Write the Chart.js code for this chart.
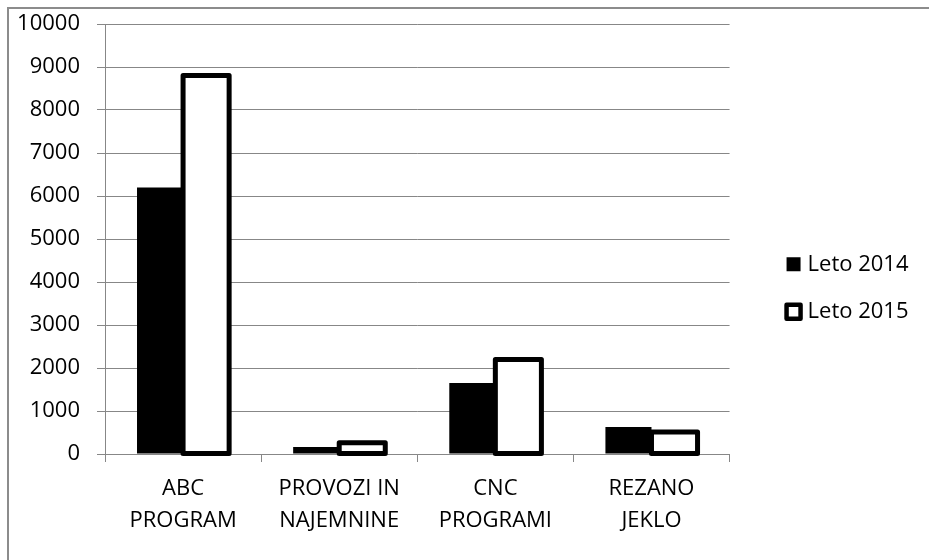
<!DOCTYPE html>
<html>
<head>
<meta charset="utf-8">
<script src="https://cdn.jsdelivr.net/npm/chart.js@4/dist/chart.umd.min.js"></script>
<style>
  html, body { margin: 0; padding: 0; background: #fff; }
  #wrap { position: relative; width: 929px; height: 560px; }
</style>
</head>
<body>
<div id="wrap"><canvas id="chart"></canvas></div>
<script>
// Categories (two-line axis labels)
const categories = [
  ['ABC', 'PROGRAM'],
  ['PROVOZI IN', 'NAJEMNINE'],
  ['CNC', 'PROGRAMI'],
  ['REZANO', 'JEKLO']
];
const seriesNames = ['Leto 2014', 'Leto 2015'];
const values2014 = [6200, 160, 1650, 630];
const values2015 = [8800, 260, 2200, 510];
const yTicks = [0, 1000, 2000, 3000, 4000, 5000, 6000, 7000, 8000, 9000, 10000];

const GRID = '#878787';
const OUTLINE = 5;

Chart.defaults.font.family = "'Open Sans', sans-serif";
Chart.defaults.font.size = 22;
Chart.defaults.color = '#000';

// White page with the grey frame along the top and left edges
const framePlugin = {
  id: 'frame',
  beforeDraw(chart) {
    const ctx = chart.ctx;
    ctx.save();
    ctx.fillStyle = '#fff';
    ctx.fillRect(0, 0, chart.width, chart.height);
    ctx.strokeStyle = '#8c8c8c';
    ctx.lineWidth = 2;
    ctx.beginPath();
    ctx.moveTo(8, chart.height);
    ctx.lineTo(8, 8);
    ctx.lineTo(chart.width, 8);
    ctx.stroke();
    ctx.restore();
  }
};

// Thick centred outline around the hollow 2015 bars
const outlinePlugin = {
  id: 'outline',
  afterDatasetsDraw(chart) {
    const meta = chart.getDatasetMeta(1);
    if (!meta || meta.hidden) return;
    const ctx = chart.ctx;
    ctx.save();
    ctx.strokeStyle = '#000';
    ctx.lineWidth = OUTLINE;
    ctx.lineJoin = 'round';
    meta.data.forEach(bar => {
      const left = bar.x - bar.width / 2;
      ctx.strokeRect(left, bar.y, bar.width, bar.base - bar.y);
    });
    ctx.restore();
  }
};

// Keep the legend entries to the right of the plot with a gap
const legendShift = {
  id: 'legendShift',
  afterLayout(chart) {
    const lg = chart.legend;
    if (!lg) return;
    const dx = 35.5;
    lg.left += dx;
    lg.right += dx;
  }
};

new Chart(document.getElementById('chart'), {
  type: 'bar',
  data: {
    labels: categories,
    datasets: [
      {
        label: seriesNames[0],
        data: values2014,
        backgroundColor: '#000',
        borderWidth: 0
      },
      {
        label: seriesNames[1],
        data: values2015,
        backgroundColor: '#fff',
        borderWidth: 0
      }
    ]
  },
  options: {
    responsive: true,
    maintainAspectRatio: false,
    animation: false,
    events: [],
    categoryPercentage: 0.59,
    barPercentage: 1.0,
    layout: { padding: { top: 24, left: 0, right: 46, bottom: 8 } },
    scales: {
      x: {
        grid: {
          display: true,
          drawOnChartArea: false,
          drawTicks: true,
          tickLength: 8,
          color: GRID
        },
        border: { display: true, color: GRID, width: 1 },
        ticks: {
          padding: 11,
          maxRotation: 0,
          autoSkip: false,
          font: { size: 22, lineHeight: 1.44 }
        },
        afterFit(scale) {
          scale.height = 98;
          scale.paddingLeft = 0;
          scale.paddingRight = 0;
        }
      },
      y: {
        min: 0,
        max: 10000,
        afterBuildTicks(scale) {
          scale.ticks = yTicks.map(v => ({ value: v }));
        },
        grid: {
          color: GRID,
          lineWidth: 1,
          drawTicks: true,
          tickLength: 8
        },
        border: { display: true, color: GRID, width: 1 },
        ticks: {
          padding: 17,
          font: { size: 22 },
          callback: (value) => String(value)
        },
        afterFit(scale) {
          scale.width = 105;
          scale.paddingTop = 0;
          scale.paddingBottom = 0;
        }
      }
    },
    plugins: {
      tooltip: { enabled: false },
      title: { display: false },
      legend: {
        display: true,
        position: 'right',
        align: 'center',
        labels: {
          usePointStyle: true,
          pointStyle: 'rect',
          boxWidth: 6,
          boxHeight: 14,
          padding: 25.5,
          font: { size: 22 },
          color: '#000',
          generateLabels(chart) {
            const items = Chart.defaults.plugins.legend.labels.generateLabels(chart);
            items.forEach((it, i) => {
              it.pointStyle = 'rect';
              it.strokeStyle = '#000';
              it.lineWidth = i === 1 ? 4.5 : 0;
              it.lineJoin = 'round';
            });
            return items;
          }
        }
      }
    }
  },
  plugins: [framePlugin, outlinePlugin, legendShift]
});
</script>
</body>
</html>
